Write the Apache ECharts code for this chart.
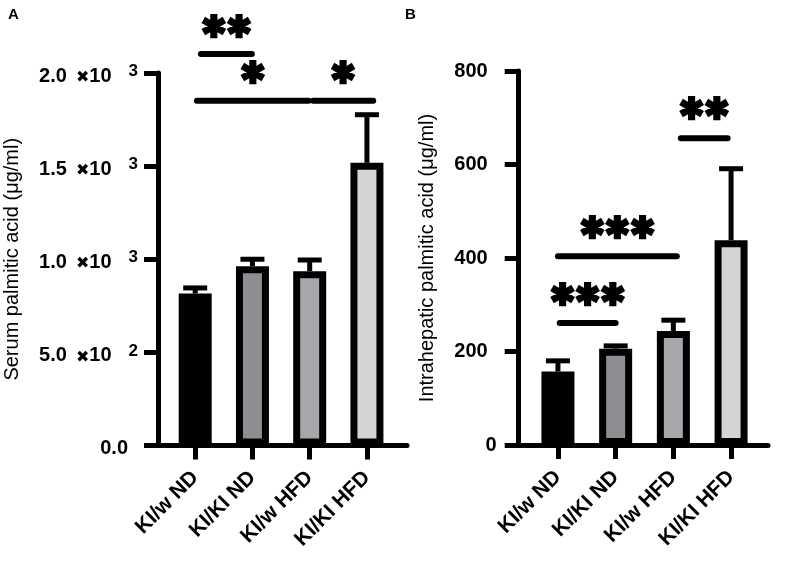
<!DOCTYPE html>
<html>
<head>
<meta charset="utf-8">
<script src="https://cdn.jsdelivr.net/npm/echarts@6/dist/echarts.min.js"></script>
<style>
  html, body { margin: 0; padding: 0; background: #fff; }
  #chart { width: 785px; height: 568px; }
</style>
</head>
<body>
<div id="chart"></div>
<script>
// groups on the x axis
const cats = ['KI/w ND', 'KI/KI ND', 'KI/w HFD', 'KI/KI HFD'];
const barFills = ['#000000', '#8e8e92', '#a8a8ac', '#d4d4d6'];

// panel A: serum palmitic acid, mean and mean+SD
const serumMean = [816, 963, 936, 1518];
const serumTop = [846, 1000, 996, 1776];
const serumTicks = [0, 500, 1000, 1500, 2000];
const serumTickMant = ['0.0', '5.0', '1.0', '1.5', '2.0'];
const serumTickExp = ['', '2', '3', '3', '3'];

// panel B: intrahepatic palmitic acid
const liverMean = [157, 206, 244, 438];
const liverTop = [180, 212, 267, 591];
const liverTicks = [0, 200, 400, 600, 800];

// significance bars (x in group units, y in data units)
const serumSigFrom = [0.10, 0.03, 2.06];
const serumSigTo = [0.99, 1.98, 3.11];
const serumSigLineY = [2102, 1851, 1851];
const serumSigStarY = [2236, 1989, 1989];
const serumSigText = ['✱✱', '✱', '✱'];

const liverSigFrom = [0.03, 0.00, 2.13];
const liverSigTo = [1.00, 2.06, 2.94];
const liverSigLineY = [261, 404, 656];
const liverSigStarY = [317, 460, 714];
const liverSigText = ['✱✱✱', '✱✱✱', '✱✱'];

const FONT = '"Liberation Sans", Arial, sans-serif';
const ticksX = [0, 1, 2, 3];

var myChart = echarts.init(document.getElementById('chart'));

let xAxisOf = (gi, min, max) => {
    return {
        type: 'value', gridIndex: gi, min: min, max: max,
        splitLine: { show: false },
        axisLine: { show: true, onZero: false, lineStyle: { color: '#000', width: 5 } },
        axisTick: { show: true, customValues: ticksX, length: 14, lineStyle: { color: '#000', width: 5 } },
        axisLabel: {
            customValues: ticksX, rotate: 45, margin: 29,
            color: '#000', fontSize: 21, fontWeight: 'bold', fontFamily: FONT,
            formatter: (v) => cats[Math.round(v)]
        }
    };
};

let yAxisBase = (gi, max, interval, name, nameGap) => {
    return {
        type: 'value', gridIndex: gi, min: 0, max: max, interval: interval,
        name: name, nameLocation: 'middle', nameGap: nameGap, nameMoveOverlap: false,
        nameTextStyle: { color: '#000', fontSize: 20, fontFamily: FONT },
        splitLine: { show: false },
        axisLine: { show: true, onZero: false, lineStyle: { color: '#000', width: 5 } },
        axisTick: { show: true, length: 14, lineStyle: { color: '#000', width: 5 } }
    };
};

let yA = yAxisBase(0, 2000, 500, 'Serum palmitic acid (μg/ml)', 136);
yA.axisLabel = {
    margin: 20, color: '#000', fontFamily: FONT, padding: [6, 0, 0, 0],
    formatter: (v) => {
        const i = serumTicks.indexOf(v);
        if (i < 0) return '';
        if (!serumTickExp[i]) return '{z|' + serumTickMant[i] + '}';
        return '{m|' + serumTickMant[i] + '}{x|✖}{n|10}{e|' + serumTickExp[i] + '}';
    },
    rich: {
        z: { fontSize: 20, fontWeight: 'bold', fontFamily: FONT, padding: [0, 10, 0, 0] },
        m: { fontSize: 20, fontWeight: 'bold', fontFamily: FONT, lineHeight: 20, verticalAlign: 'bottom', padding: [0, 9, 0, 0] },
        x: { fontSize: 16, fontFamily: '"DejaVu Sans"', lineHeight: 20, verticalAlign: 'bottom' },
        n: { fontSize: 20, fontWeight: 'bold', fontFamily: FONT, lineHeight: 20, verticalAlign: 'bottom' },
        e: { fontSize: 17, fontWeight: 'bold', fontFamily: FONT, lineHeight: 17, verticalAlign: 'bottom', padding: [0, 0, 6, 17] }
    }
};

let yB = yAxisBase(1, 800, 200, 'Intrahepatic palmitic acid (μg/ml)', 81);
yB.axisLabel = {
    margin: 22, color: '#000', fontFamily: FONT,
    formatter: (v) => v === 0 ? '{z|0}' : '{r|' + v + '}',
    rich: {
        z: { fontSize: 20, fontWeight: 'bold', fontFamily: FONT },
        r: { fontSize: 20, fontWeight: 'bold', fontFamily: FONT, padding: [0, 9, 0, 0] }
    }
};

let barSeries = (gi, means) => {
    return {
        type: 'bar', xAxisIndex: gi, yAxisIndex: gi, barWidth: 33, z: 2,
        data: means.map((m, i) => ({
            value: [i, m],
            itemStyle: { color: barFills[i], borderColor: '#000', borderWidth: 7 }
        }))
    };
};

let errSeries = (gi, means, tops) => {
    return {
        type: 'custom', xAxisIndex: gi, yAxisIndex: gi, z: 3, clip: false,
        data: means.map((m, i) => [i, m, tops[i]]),
        renderItem: (params, api) => {
            const a = api.coord([api.value(0), api.value(1)]);
            const b = api.coord([api.value(0), api.value(2)]);
            const st = { stroke: '#000', lineWidth: 5 };
            return {
                type: 'group',
                children: [
                    { type: 'line', shape: { x1: a[0], y1: a[1], x2: b[0], y2: b[1] }, style: st },
                    { type: 'line', shape: { x1: b[0] - 12, y1: b[1], x2: b[0] + 12, y2: b[1] }, style: st }
                ]
            };
        }
    };
};

let sigSeries = (gi, from, to, lineY, starY, text) => {
    return {
        type: 'custom', xAxisIndex: gi, yAxisIndex: gi, z: 4, clip: false,
        data: from.map((f, i) => [f, to[i], lineY[i], starY[i]]),
        encode: { x: [0, 1], y: [2, 3] },
        renderItem: (params, api) => {
            const p1 = api.coord([api.value(0), api.value(2)]);
            const p2 = api.coord([api.value(1), api.value(2)]);
            const ps = api.coord([(api.value(0) + api.value(1)) / 2, api.value(3)]);
            return {
                type: 'group',
                children: [
                    { type: 'line', shape: { x1: p1[0], y1: p1[1], x2: p2[0], y2: p2[1] },
                      style: { stroke: '#000', lineWidth: 6, lineCap: 'round' } },
                    { type: 'text',
                      style: { text: text[params.dataIndex], x: ps[0], y: ps[1], fill: '#000',
                               stroke: '#000', lineWidth: 2.5,
                               fontSize: 30, fontFamily: '"DejaVu Sans"',
                               align: 'center', verticalAlign: 'middle' } }
                ]
            };
        }
    };
};

let option = {
    animation: false,
    backgroundColor: '#fff',
    textStyle: { fontFamily: FONT },
    grid: [
        { left: 158, top: 73, width: 249, height: 372.5 },
        { left: 518.7, top: 71, width: 249.3, height: 374 }
    ],
    xAxis: [ xAxisOf(0, -0.65, 3.70), xAxisOf(1, -0.68, 3.64) ],
    yAxis: [ yA, yB ],
    series: [
        barSeries(0, serumMean),
        errSeries(0, serumMean, serumTop),
        sigSeries(0, serumSigFrom, serumSigTo, serumSigLineY, serumSigStarY, serumSigText),
        barSeries(1, liverMean),
        errSeries(1, liverMean, liverTop),
        sigSeries(1, liverSigFrom, liverSigTo, liverSigLineY, liverSigStarY, liverSigText)
    ],
    graphic: [
        { type: 'text', left: 8, top: 7, style: { text: 'A', fill: '#000', font: 'bold 15px "Liberation Sans", Arial' } },
        { type: 'text', left: 405, top: 7, style: { text: 'B', fill: '#000', font: 'bold 15px "Liberation Sans", Arial' } }
    ]
};

myChart.setOption(option);
</script>
</body>
</html>
